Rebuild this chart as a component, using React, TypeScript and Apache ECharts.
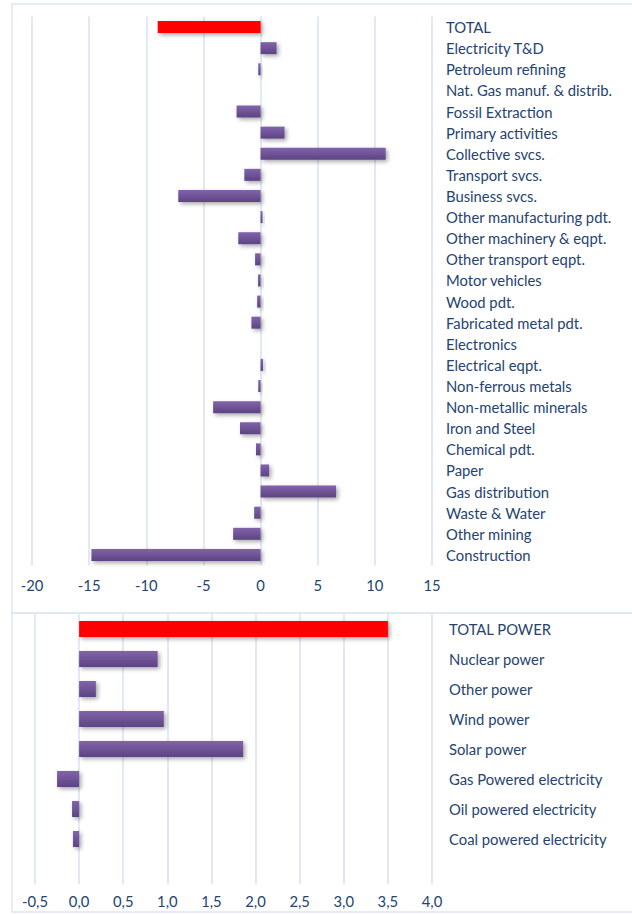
import React, { useEffect, useRef } from "react";
import * as echarts from "echarts";

const topCategories = [
  "TOTAL",
  "Electricity T&D",
  "Petroleum refining",
  "Nat. Gas manuf. & distrib.",
  "Fossil Extraction",
  "Primary activities",
  "Collective svcs.",
  "Transport svcs.",
  "Business svcs.",
  "Other manufacturing pdt.",
  "Other machinery & eqpt.",
  "Other transport eqpt.",
  "Motor vehicles",
  "Wood pdt.",
  "Fabricated metal pdt.",
  "Electronics",
  "Electrical eqpt.",
  "Non-ferrous metals",
  "Non-metallic minerals",
  "Iron and Steel",
  "Chemical pdt.",
  "Paper",
  "Gas distribution",
  "Waste & Water",
  "Other mining",
  "Construction",
];
const topValues = [
  -9.0, 1.4, -0.2, 0, -2.1, 2.1, 10.95, -1.42, -7.2, 0.17, -1.95, -0.48, -0.22,
  -0.3, -0.8, 0, 0.22, -0.2, -4.15, -1.8, -0.4, 0.75, 6.6, -0.56, -2.4, -14.8,
];
const topTicks = [-20, -15, -10, -5, 0, 5, 10, 15];

const powerCategories = [
  "TOTAL POWER",
  "Nuclear power",
  "Other power",
  "Wind power",
  "Solar power",
  "Gas Powered electricity",
  "Oil powered electricity",
  "Coal powered electricity",
  "",
];
const powerValues = [3.5, 0.89, 0.19, 0.96, 1.86, -0.25, -0.08, -0.07, null];
const powerTicks = [-0.5, 0, 0.5, 1, 1.5, 2, 2.5, 3, 3.5, 4];

const TEXT = "#26436f";
const GRID = "#d7e2f1";
const FONT = "Lato, 'Open Sans', sans-serif";
const FS = 14.8;

const purple = new echarts.graphic.LinearGradient(0, 0, 0, 1, [
  { offset: 0, color: "#8263ab" },
  { offset: 1, color: "#5c4482" },
]);

function makeData(values: (number | null)[]) {
  return values.map((v, i) => ({
    value: v,
    itemStyle: i === 0 ? { color: "#ff0000" } : { color: purple },
  }));
}

export default function App() {
  const ref = useRef<HTMLDivElement>(null);
  useEffect(() => {
    document.body.style.margin = "0";
    if (!ref.current) return;
    const chart = echarts.init(ref.current, undefined, { renderer: "svg" });
    const shadow = {
      shadowColor: "rgba(0,0,0,0.35)",
      shadowBlur: 4,
      shadowOffsetX: 2,
      shadowOffsetY: 2,
    };
    chart.setOption({
      animation: false,
      backgroundColor: "#ffffff",
      textStyle: { fontFamily: FONT },
      graphic: [
        {
          type: "rect",
          shape: { x: 12, y: 4, width: 640, height: 609 },
          style: { fill: "none", stroke: "#dde6f2", lineWidth: 1.5 },
          z: 0,
        },
        {
          type: "rect",
          shape: { x: 12, y: 613, width: 640, height: 299 },
          style: { fill: "none", stroke: "#dde6f2", lineWidth: 1.5 },
          z: 0,
        },
      ],
      grid: [
        { left: 32, top: 16.5, width: 400, height: 549, containLabel: false },
        { left: 35, top: 614, width: 397, height: 270, containLabel: false },
      ],
      xAxis: [
        {
          type: "value",
          gridIndex: 0,
          min: topTicks[0],
          max: topTicks[topTicks.length - 1],
          interval: 5,
          axisLine: { show: false },
          axisTick: { show: false },
          splitLine: { show: true, lineStyle: { color: GRID, width: 1.5 } },
          axisLabel: {
            color: TEXT,
            fontSize: FS,
            fontFamily: FONT,
            margin: 12,
          },
        },
        {
          type: "value",
          gridIndex: 1,
          min: powerTicks[0],
          max: powerTicks[powerTicks.length - 1],
          interval: 0.5,
          axisLine: { show: false },
          axisTick: { show: false },
          splitLine: { show: true, lineStyle: { color: GRID, width: 1.5 } },
          axisLabel: {
            color: TEXT,
            fontSize: FS,
            fontFamily: FONT,
            margin: 9,
            formatter: (v: number) => v.toFixed(1).replace(".", ","),
          },
        },
      ],
      yAxis: [
        {
          type: "category",
          gridIndex: 0,
          data: topCategories,
          inverse: true,
          position: "right",
          axisLine: { show: false },
          axisTick: { show: false },
          axisLabel: {
            color: TEXT,
            fontSize: FS,
            fontFamily: FONT,
            margin: 14,
            align: "left",
            padding: [0, 0, 2, 0],
          },
        },
        {
          type: "category",
          gridIndex: 1,
          data: powerCategories,
          inverse: true,
          position: "right",
          axisLine: { show: false },
          axisTick: { show: false },
          axisLabel: {
            color: TEXT,
            fontSize: FS,
            fontFamily: FONT,
            margin: 17,
            align: "left",
            padding: [0, 0, 3, 0],
          },
        },
      ],
      series: [
        {
          type: "bar",
          xAxisIndex: 0,
          yAxisIndex: 0,
          barWidth: 12,
          data: makeData(topValues),
          itemStyle: shadow,
        },
        {
          type: "bar",
          xAxisIndex: 1,
          yAxisIndex: 1,
          barWidth: 16,
          data: makeData(powerValues),
          itemStyle: shadow,
        },
      ],
    });
    return () => chart.dispose();
  }, []);
  return <div ref={ref} style={{ width: 632, height: 914 }} />;
}
